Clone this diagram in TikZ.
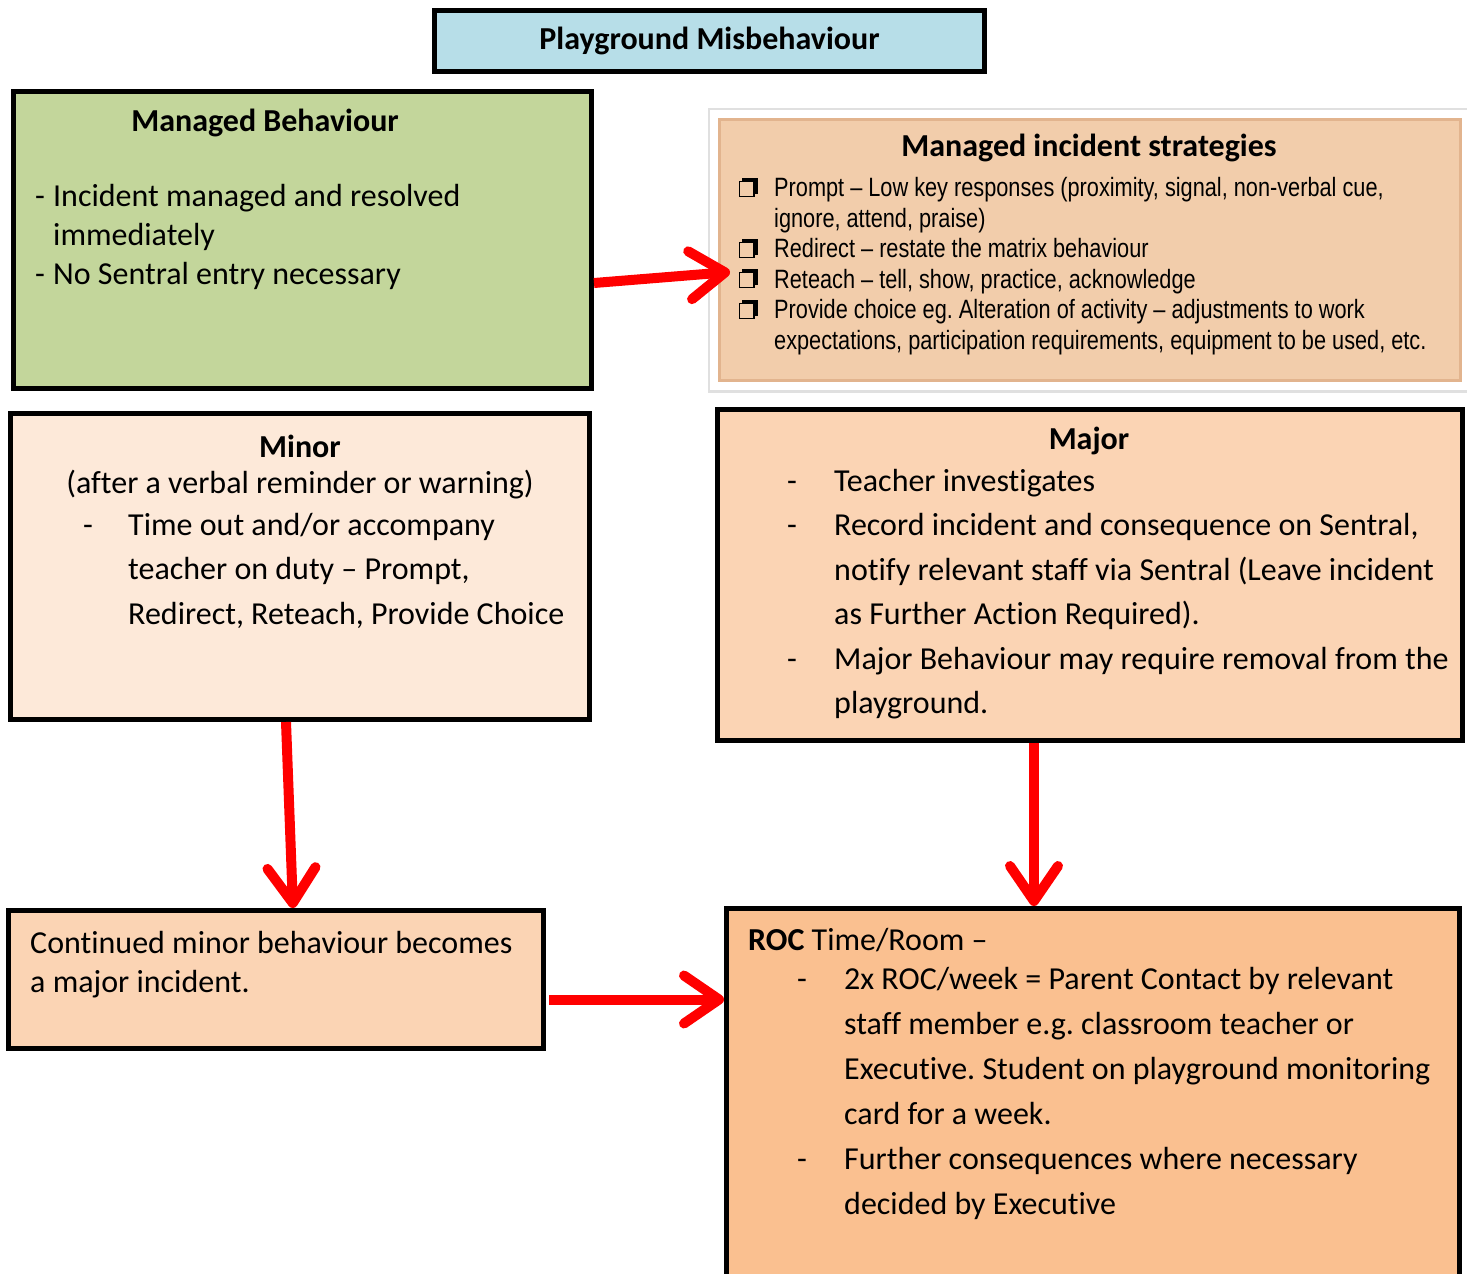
\documentclass[tikz,border=0pt]{standalone}
\usepackage{fontspec}
\setmainfont{Carlito}[Ligatures=NoCommon]
\newfontfamily\narrowfont[FakeStretch=0.82]{Liberation Sans}
\usetikzlibrary{arrows.meta}
\definecolor{titleblue}{HTML}{B7DEE8}
\definecolor{mgreen}{HTML}{C3D69B}
\definecolor{speach}{HTML}{F2CDAB}
\definecolor{speachedge}{HTML}{E2B48E}
\definecolor{minorfill}{HTML}{FDE9D9}
\definecolor{majorfill}{HTML}{FBD4B4}
\definecolor{rocfill}{HTML}{FAC090}
\tikzset{
  box/.style={draw=black, line width=5pt, rectangle, inner sep=0pt, anchor=north west},
  txt/.style={inner sep=0pt, align=left, anchor=north west},
  headtxt/.style={inner sep=0pt, font=\fontsize{32}{32}\selectfont\bfseries},
  redarrow/.style={draw=red, line width=10pt, -{Straight Barb[length=35pt,width=48pt,round]}},
  checkbox/.style={draw=black, line width=1.8pt},
}
\frenchspacing
\begin{document}
\begin{tikzpicture}[x=1pt,y=-1pt]
\useasboundingbox (0,0) rectangle (1467,1274);

% Title
\node[box, fill=titleblue, minimum width=550pt, minimum height=61pt] (title) at (432,8) {};
\node[headtxt] (titletxt) at (title.center) {Playground Misbehaviour};

% Managed Behaviour
\node[box, fill=mgreen, minimum width=578pt, minimum height=297pt] (mb) at (11,89) {};
\node[headtxt] (mbhead) at (265,123) {Managed Behaviour};
\node[txt, font=\fontsize{32}{39}\selectfont] (mbtxt) at (35,184)
  {\makebox[18pt][l]{-}Incident managed and resolved\\
   \hspace*{18pt}immediately\\
   \makebox[18pt][l]{-}No Sentral entry necessary};

% Managed incident strategies
\fill[black!12] (708,108) rectangle (1467,393);
\fill[white] (710,110) rectangle (1467,390);
\node[draw=speachedge, line width=3pt, fill=speach, rectangle, inner sep=0pt, anchor=north west,
      minimum width=741pt, minimum height=261pt] (si) at (718,118) {};
\node[headtxt] (sihead) at (1089,148) {Managed incident strategies};
\node[txt, font=\narrowfont\fontsize{26.5}{30.6}\selectfont] (sitxt) at (740,177)
  {\hspace*{34pt}Prompt – Low key responses (proximity, signal, non-verbal cue,\\
   \hspace*{34pt}ignore, attend, praise)\\
   \hspace*{34pt}Redirect – restate the matrix behaviour\\
   \hspace*{34pt}Reteach – tell, show, practice, acknowledge\\
   \hspace*{34pt}Provide choice eg. Alteration of activity – adjustments to work\\
   \hspace*{34pt}expectations, participation requirements, equipment to be used, etc.};
\foreach \cy in {188,249,279,310} {
  \fill[black] (742,\cy-10) rectangle (757.5,\cy-6.5);
  \fill[black] (754,\cy-10) rectangle (757.5,\cy+6);
  \draw[checkbox] (739.5,\cy-6.5) rectangle (754,\cy+8.5);
}

% Minor
\node[box, fill=minorfill, minimum width=579pt, minimum height=306pt] (minor) at (8,411) {};
\node[headtxt] (minorhead) at (300,446) {Minor};
\node[inner sep=0pt, font=\fontsize{32}{32}\selectfont] (minorsub) at (300,485) {(after a verbal reminder or warning)};
\node[txt, font=\fontsize{32}{44.5}\selectfont] (minortxt) at (83,513)
  {\makebox[45pt][l]{-}Time out and/or accompany\\
   \hspace*{45pt}teacher on duty – Prompt,\\
   \hspace*{45pt}Redirect, Reteach, Provide Choice};

% Major
\node[box, fill=majorfill, minimum width=745pt, minimum height=331pt] (major) at (715,407) {};
\node[headtxt] (majorhead) at (1089,441) {Major};
\node[txt, font=\fontsize{32}{44.5}\selectfont] (majortxt) at (787,469)
  {\makebox[47pt][l]{-}Teacher investigates\\
   \makebox[47pt][l]{-}Record incident and consequence on Sentral,\\
   \hspace*{47pt}notify relevant staff via Sentral (Leave incident\\
   \hspace*{47pt}as Further Action Required).\\
   \makebox[47pt][l]{-}Major Behaviour may require removal from the\\
   \hspace*{47pt}playground.};

% Continued minor
\node[box, fill=majorfill, minimum width=535pt, minimum height=138pt] (cont) at (6,908) {};
\node[txt, font=\fontsize{32}{39}\selectfont] (conttxt) at (30,931)
  {Continued minor behaviour becomes\\
   a major incident.};

% ROC
\node[box, fill=rocfill, minimum width=733pt, minimum height=400pt] (roc) at (724,906) {};
\node[txt, font=\fontsize{32}{32}\selectfont] (rochead) at (748,928) {\textbf{ROC} Time/Room –};
\node[txt, font=\fontsize{32}{45}\selectfont] (roctxt) at (797,967)
  {\makebox[47pt][l]{-}2x ROC/week = Parent Contact by relevant\\
   \hspace*{47pt}staff member e.g. classroom teacher or\\
   \hspace*{47pt}Executive. Student on playground monitoring\\
   \hspace*{47pt}card for a week.\\
   \makebox[47pt][l]{-}Further consequences where necessary\\
   \hspace*{47pt}decided by Executive};

% Arrows
\coordinate (a1s) at ([yshift=-43pt]mb.east);
\coordinate (a1e) at ([xshift=12pt,yshift=-22pt]si.west);
\draw[redarrow] (a1s) -- (a1e);
\draw[redarrow] ([xshift=-14pt]minor.south) -- ([xshift=17pt]cont.north);
\draw[redarrow] ([xshift=-56pt]major.south) -- ([xshift=-59pt]roc.north);
\coordinate (a4s) at ([xshift=3pt,yshift=-20pt]cont.east);
\draw[redarrow] (a4s) -- (a4s -| roc.west);
\end{tikzpicture}
\end{document}
